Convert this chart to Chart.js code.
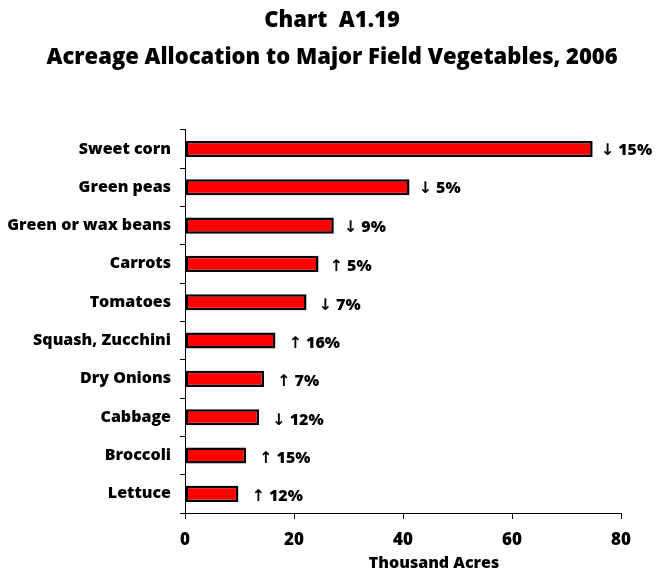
<!DOCTYPE html>
<html>
<head>
<meta charset="utf-8">
<script src="https://cdn.jsdelivr.net/npm/chart.js@4/dist/chart.umd.min.js"></script>
<style>
  html, body { margin: 0; padding: 0; background: #fff; }
  #wrap { width: 656px; height: 572px; }
</style>
</head>
<body>
<div id="wrap"><canvas id="acres"></canvas></div>
<script>
  // acreage by crop, thousand acres, 2006
  const crops = [
    "Sweet corn", "Green peas", "Green or wax beans", "Carrots", "Tomatoes",
    "Squash, Zucchini", "Dry Onions", "Cabbage", "Broccoli", "Lettuce",
  ];
  const acres = [74.8, 41.2, 27.3, 24.5, 22.3, 16.6, 14.5, 13.6, 11.2, 9.8];
  // percent change vs previous year (sign gives arrow direction)
  const change = [-15, -5, -9, 5, -7, 16, 7, -12, 15, 12];
  const xTicks = [0, 20, 40, 60, 80];
  const xTitle = "Thousand Acres";

  const FONT = "'Open Sans', 'DejaVu Sans', sans-serif";

  const changeLabel = (v) => (v < 0 ? "\u2193" : "\u2191") + " " + Math.abs(v) + "%";

  // arrow + percent next to each bar end, plus the x axis caption
  const changeLabels = {
    id: "changeLabels",
    afterDatasetsDraw(chart) {
      const { ctx, chartArea } = chart;
      const meta = chart.getDatasetMeta(0);
      ctx.save();
      ctx.fillStyle = "#000";
      ctx.font = `800 16px ${FONT}`;
      ctx.textAlign = "left";
      ctx.textBaseline = "middle";
      meta.data.forEach((bar, i) => {
        ctx.fillText(changeLabel(change[i]), bar.x + 8 + Math.min(i, 5), bar.y + 1 + Math.min(i, 3) * 0.6);
      });

      ctx.font = `800 16px ${FONT}`;
      ctx.textAlign = "center";
      const xs = chart.scales.x;
      ctx.fillText(xTitle, (chartArea.left + chartArea.right) / 2 + 31, xs.bottom - 9);
      ctx.restore();
    },
  };

  new Chart(document.getElementById("acres"), {
    type: "bar",
    data: {
      labels: crops,
      datasets: [{
        data: acres,
        backgroundColor: "#ff0000",
        borderColor: "#000",
        borderWidth: 2.5,
        borderSkipped: false,
        barPercentage: 0.42,
        categoryPercentage: 1,
      }],
    },
    options: {
      indexAxis: "y",
      responsive: true,
      maintainAspectRatio: false,
      animation: false,
      layout: { padding: { left: 8, right: 0, top: 0, bottom: 0 } },
      plugins: {
        legend: { display: false },
        tooltip: { enabled: false },
        title: {
          display: true,
          text: "Chart  A1.19",
          color: "#000",
          font: { family: FONT, size: 22, weight: "800" },
          padding: { top: 8, bottom: 10 },
        },
        subtitle: {
          display: true,
          text: "Acreage Allocation to Major Field Vegetables, 2006",
          color: "#000",
          font: { family: FONT, size: 22, weight: "800" },
          padding: { top: 0, bottom: 59 },
        },
      },
      scales: {
        x: {
          min: 0,
          max: 80,
          afterBuildTicks: (s) => { s.ticks = xTicks.map((v) => ({ value: v })); },
          afterFit: (s) => { s.height = 59; },
          grid: { drawOnChartArea: false, drawTicks: true, tickLength: 6, color: "#000" },
          border: { display: true, color: "#000", width: 1 },
          ticks: {
            color: "#000",
            padding: 11,
            font: { family: FONT, size: 17, weight: "800" },
          },
        },
        y: {
          afterFit: (s) => { s.width = 177; },
          grid: { drawOnChartArea: false, drawTicks: true, tickLength: 5, color: "#000", offset: true },
          border: { display: true, color: "#000", width: 1 },
          ticks: {
            color: "#000",
            padding: 9,
            font: { family: FONT, size: 16, weight: "800" },
          },
        },
        // empty right-hand gutter for the labels past the last tick
        yRight: {
          type: "category",
          axis: "y",
          position: "right",
          afterFit: (s) => { s.width = 35; },
          grid: { display: false },
          ticks: { display: false },
          border: { display: false },
        },
      },
    },
    plugins: [changeLabels],
  });
</script>
</body>
</html>
